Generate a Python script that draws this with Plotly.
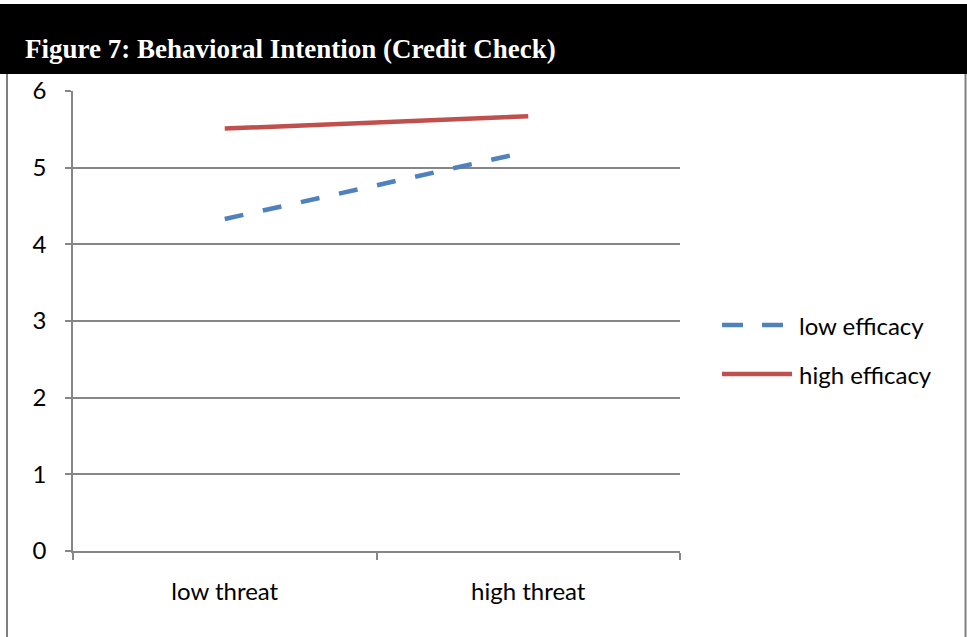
import plotly.graph_objects as go

# Data
categories = ["low threat", "high threat"]
series_names = ["low efficacy", "high efficacy"]
low_efficacy = [4.33, 5.21]
high_efficacy = [5.51, 5.67]
y_ticks = [0, 1, 2, 3, 4, 5, 6]

colors = ["#4F81BD", "#C0504D"]
dashes = ["19px,20px", "solid"]

W, H = 967, 637
L, R, T, B = 73, 287, 91, 86
FONT = "Lato"

fig = go.Figure()
for name, vals, col, dash in zip(series_names, [low_efficacy, high_efficacy], colors, dashes):
    fig.add_trace(go.Scatter(
        x=categories, y=vals, mode="lines", name=name,
        line=dict(color=col, width=4.5, dash=dash),
        showlegend=False,
    ))

pw, ph = W - L - R, H - T - B
def fx(p):
    return (p - L) / pw
def fy(p):
    return (H - B - p) / ph

shapes = [
    # title bar
    dict(type="rect", xref="paper", yref="paper",
         x0=fx(0), x1=fx(W), y0=fy(74), y1=fy(4),
         fillcolor="black", line=dict(width=0), layer="below"),
    # frame borders
    dict(type="line", xref="paper", yref="paper",
         x0=fx(7), x1=fx(7), y0=fy(74), y1=fy(640),
         line=dict(color="#7F7F7F", width=2)),
    dict(type="line", xref="paper", yref="paper",
         x0=fx(965.5), x1=fx(965.5), y0=fy(74), y1=fy(640),
         line=dict(color="#7F7F7F", width=2)),
]

annotations = [
    dict(text="<b>Figure 7: Behavioral Intention (Credit Check)</b>",
         xref="paper", yref="paper", x=fx(23), y=fy(49),
         xanchor="left", yanchor="middle", showarrow=False,
         font=dict(family="Liberation Serif", size=27, color="white")),
]

# legend drawn beside the plot
legend_rows = [325, 374]
legend_ends = [783, 792]
for name, col, dash, yy, xe in zip(series_names, colors, dashes, legend_rows, legend_ends):
    shapes.append(dict(type="line", xref="paper", yref="paper",
                       x0=fx(722), x1=fx(xe), y0=fy(yy), y1=fy(yy),
                       line=dict(color=col, width=4.5,
                                 dash="21px,19px" if dash != "solid" else "solid")))
    annotations.append(dict(text=name, xref="paper", yref="paper",
                            x=fx(797), y=fy(yy), xanchor="left", yanchor="middle",
                            showarrow=False,
                            font=dict(family=FONT, size=24, color="black")))

fig.update_layout(
    width=W, height=H,
    margin=dict(l=L, r=R, t=T, b=B),
    paper_bgcolor="white", plot_bgcolor="white",
    shapes=shapes, annotations=annotations,
    xaxis=dict(
        type="category", range=[-0.5, 1.5], tickson="boundaries",
        showline=True, linecolor="#868686", linewidth=1.5,
        ticks="outside", ticklen=7, tickcolor="#868686", tickwidth=1.5,
        showgrid=False, zeroline=False, ticklabelstandoff=18,
        tickfont=dict(family=FONT, size=24, color="black"),
    ),
    yaxis=dict(
        range=[0, 6], tickvals=y_ticks,
        showline=True, linecolor="#868686", linewidth=1.5,
        ticks="outside", ticklen=6, tickcolor="#868686", tickwidth=1.5,
        showgrid=True, gridcolor="#868686", gridwidth=1.5,
        zeroline=False, ticklabelstandoff=14,
        tickfont=dict(family=FONT, size=24, color="black"),
    ),
)

fig.write_html("out.html")
